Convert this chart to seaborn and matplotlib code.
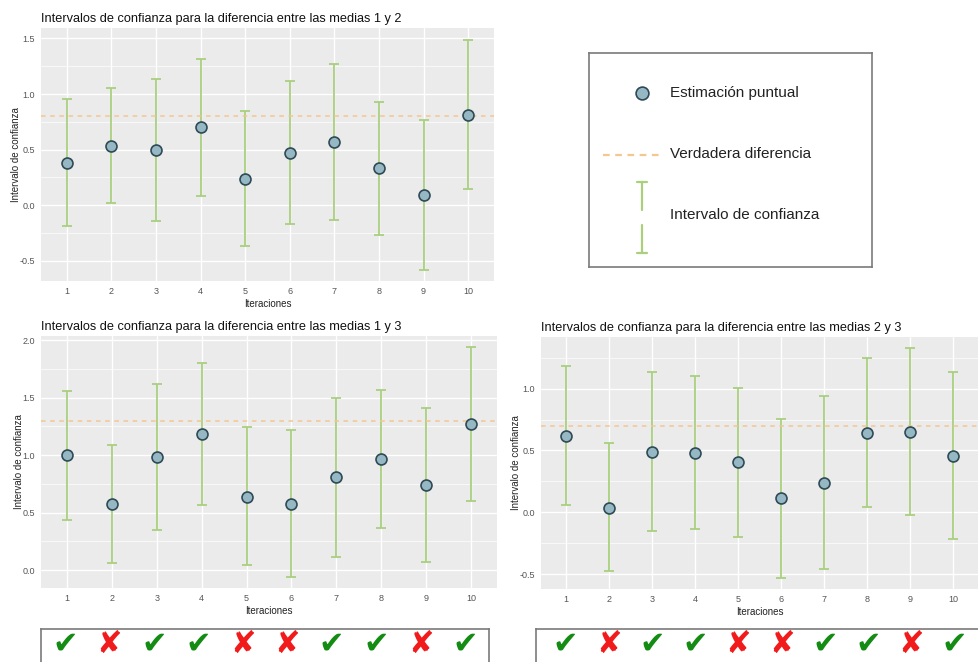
import numpy as np
import pandas as pd
import matplotlib
matplotlib.use("Agg")
import matplotlib.pyplot as plt
from matplotlib.ticker import AutoMinorLocator, FixedLocator
import seaborn as sns

# ---- data -------------------------------------------------------------
iteraciones = list(range(1, 11))

est_12 = [0.38, 0.536, 0.497, 0.702, 0.238, 0.470, 0.566, 0.331, 0.093, 0.816]
lo_12 = [-0.184, 0.018, -0.142, 0.087, -0.364, -0.169, -0.130, -0.271, -0.578, 0.145]
hi_12 = [0.958, 1.057, 1.139, 1.319, 0.846, 1.117, 1.268, 0.928, 0.768, 1.491]
verdad_12 = 0.8

est_13 = [1.000, 0.577, 0.981, 1.183, 0.641, 0.577, 0.808, 0.970, 0.739, 1.270]
lo_13 = [0.439, 0.061, 0.346, 0.569, 0.043, -0.055, 0.113, 0.369, 0.075, 0.600]
hi_13 = [1.561, 1.091, 1.616, 1.798, 1.241, 1.218, 1.501, 1.567, 1.414, 1.937]
verdad_13 = 1.3

est_23 = [0.617, 0.038, 0.487, 0.479, 0.407, 0.113, 0.240, 0.641, 0.652, 0.458]
lo_23 = [0.057, -0.477, -0.148, -0.135, -0.197, -0.528, -0.458, 0.046, -0.022, -0.213]
hi_23 = [1.185, 0.563, 1.131, 1.101, 1.004, 0.751, 0.940, 1.244, 1.325, 1.131]
verdad_23 = 0.7

yticks_12 = [-0.5, 0.0, 0.5, 1.0, 1.5]
yticks_13 = [0.0, 0.5, 1.0, 1.5, 2.0]
yticks_23 = [-0.5, 0.0, 0.5, 1.0]

# whether each interval covers the true difference
cubre_13 = [True, False, True, True, False, False, True, True, False, True]
cubre_23 = [True, False, True, True, False, False, True, True, False, True]

titulos = [
    "Intervalos de confianza para la diferencia entre las medias 1 y 2",
    "Intervalos de confianza para la diferencia entre las medias 1 y 3",
    "Intervalos de confianza para la diferencia entre las medias 2 y 3",
]

# ---- style ------------------------------------------------------------
sns.set_theme(style="darkgrid", rc={
    "axes.facecolor": "#EBEBEB",
    "grid.color": "white",
    "axes.edgecolor": "#EBEBEB",
    "axes.linewidth": 0,
})
plt.rcParams["font.family"] = ["Liberation Sans", "DejaVu Sans"]

COL_BAR = "#A9CF7F"
COL_PT = "#96B7C4"
COL_PT_EDGE = "#2E4A55"
COL_TRUE = "#F4C690"
COL_TXT = "#555555"

W, H = 979, 662
fig = plt.figure(figsize=(W / 100, H / 100), dpi=100)
fig.patch.set_facecolor("white")


def px_axes(x0, y0, x1, y1):
    """Axes placed by pixel box (left, top, right, bottom)."""
    return fig.add_axes([x0 / W, 1 - y1 / H, (x1 - x0) / W, (y1 - y0) / H])


def panel(ax, est, lo, hi, verdad, yticks, titulo):
    df = pd.DataFrame({"it": iteraciones, "est": est, "lo": lo, "hi": hi})
    ax.set_axisbelow(True)
    ax.errorbar(df["it"], df["est"],
                yerr=[df["est"] - df["lo"], df["hi"] - df["est"]],
                fmt="none", ecolor=COL_BAR, elinewidth=1.3,
                capsize=3.8, capthick=1.3, zorder=2)
    ax.axhline(verdad, color=COL_TRUE, lw=1.1, ls=(0, (3, 3)), zorder=3)
    sns.scatterplot(data=df, x="it", y="est", ax=ax, s=62,
                    color=COL_PT, edgecolor=COL_PT_EDGE, linewidth=1.2,
                    zorder=4, legend=False)
    lo_all = min(lo)
    hi_all = max(hi)
    pad = 0.05 * (hi_all - lo_all)
    ax.set_ylim(lo_all - pad, hi_all + pad)
    ax.set_xlim(0.42, 10.58)
    ax.xaxis.set_major_locator(FixedLocator(iteraciones))
    ax.set_xticks(iteraciones)
    ax.set_xticklabels([str(i) for i in iteraciones])
    ax.set_yticks(yticks)
    ax.set_yticklabels([f"{v:.1f}" for v in yticks])
    ax.yaxis.set_minor_locator(AutoMinorLocator(2))
    ax.grid(which="major", color="white", lw=1.0)
    ax.grid(which="minor", axis="y", color="white", lw=0.5)
    ax.grid(which="minor", axis="x", visible=False)
    ax.tick_params(axis="both", which="major", length=2.2, width=0.7,
                   color="#555555", labelsize=6.5, labelcolor=COL_TXT, pad=2)
    ax.tick_params(axis="both", which="minor", length=0)
    for s in ax.spines.values():
        s.set_visible(False)
    ax.set_xlabel("Iteraciones", fontsize=7, color="#222222", labelpad=2)
    ax.set_ylabel("Intervalo de confianza", fontsize=7, color="#222222",
                  labelpad=-1)
    ax.set_title(titulo, loc="left", fontsize=9.2, color="#111111", pad=4)


ax1 = px_axes(41, 28, 494, 281)
panel(ax1, est_12, lo_12, hi_12, verdad_12, yticks_12, titulos[0])

ax2 = px_axes(41, 336, 497, 588)
panel(ax2, est_13, lo_13, hi_13, verdad_13, yticks_13, titulos[1])

ax3 = px_axes(541, 337, 978, 589)
panel(ax3, est_23, lo_23, hi_23, verdad_23, yticks_23, titulos[2])

# ---- legend box -------------------------------------------------------
axl = px_axes(589, 53, 872, 267)
axl.set_facecolor("white")
axl.grid(False)
axl.set_xlim(0, 283)
axl.set_ylim(214, 0)
axl.set_xticks([])
axl.set_yticks([])
for s in axl.spines.values():
    s.set_visible(True)
    s.set_color("#7A7A7A")
    s.set_linewidth(1.2)
axl.scatter([53], [40], s=85, color=COL_PT, edgecolor=COL_PT_EDGE,
            linewidth=1.2, zorder=3)
axl.text(81, 40, "Estimación puntual", fontsize=11, color="#222222",
         va="center", ha="left")
axl.plot([14, 71], [102, 102], color=COL_TRUE, lw=1.6, ls=(0, (3, 2.5)))
axl.text(81, 101, "Verdadera diferencia", fontsize=11, color="#222222",
         va="center", ha="left")
axl.plot([53, 53], [129, 157], color=COL_BAR, lw=1.6)
axl.plot([48, 58], [129, 129], color=COL_BAR, lw=1.6)
axl.plot([53, 53], [172, 200], color=COL_BAR, lw=1.6)
axl.plot([48, 58], [200, 200], color=COL_BAR, lw=1.6)
axl.text(81, 162, "Intervalo de confianza", fontsize=11, color="#222222",
         va="center", ha="left")

# ---- coverage rows ----------------------------------------------------
def fila(box, xlim, cubre):
    ax = px_axes(*box)
    ax.set_facecolor("white")
    ax.grid(False)
    ax.set_xlim(*xlim)
    ax.set_ylim(box[3], box[1])
    ax.set_xticks([])
    ax.set_yticks([])
    for s in ax.spines.values():
        s.set_visible(True)
        s.set_color("#7A7A7A")
        s.set_linewidth(1.2)
    for i, ok in zip(iteraciones, cubre):
        ax.text(i, 644, "\u2714" if ok else "\u2718",
                color="#148C14" if ok else "#F21B1B",
                fontsize=22, ha="center", va="center",
                family="DejaVu Sans")


fila((41, 629, 489, 680), (0.46, 10.54), cubre_13)
fila((536, 629, 990, 680), (0.315, 10.82), cubre_23)

fig.savefig("out.png", dpi=100, facecolor="white")
